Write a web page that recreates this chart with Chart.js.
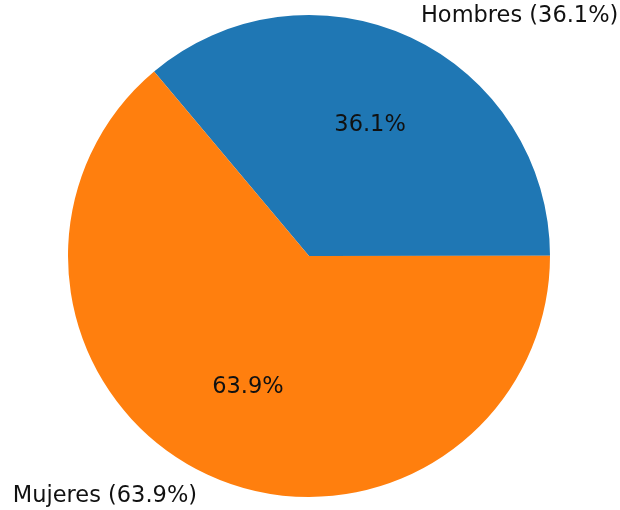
<!DOCTYPE html>
<html>
<head>
<meta charset="utf-8">
<script src="https://cdn.jsdelivr.net/npm/chart.js@4"></script>
<style>
  html, body { margin: 0; padding: 0; background: #fff; }
  #wrap { width: 620px; height: 510px; }
</style>
</head>
<body>
<div id="wrap"><canvas id="pieChart" width="620" height="510"></canvas></div>
<script>
const categories = ['Hombres', 'Mujeres'];
const values = [36.1, 63.9];
const colors = ['#1f77b4', '#ff7f0e'];

// draws the percentage inside each slice and the category label outside
const pieLabels = {
    id: 'pieLabels',
    afterDatasetsDraw(chart) {
        const ctx = chart.ctx;
        const meta = chart.getDatasetMeta(0);
        const total = values.reduce((a, b) => a + b, 0);
        ctx.save();
        ctx.font = '22.5px "DejaVu Sans"';
        ctx.fillStyle = '#111';
        ctx.textBaseline = 'middle';
        meta.data.forEach(function(arc, i) {
            const mid = (arc.startAngle + arc.endAngle) / 2;
            const r = arc.outerRadius;
            const pct = (values[i] / total * 100).toFixed(1) + '%';
            ctx.textAlign = 'center';
            ctx.fillText(pct, arc.x + Math.cos(mid) * r * 0.6, arc.y + Math.sin(mid) * r * 0.6);
            const ox = arc.x + Math.cos(mid) * r * 1.1;
            const oy = arc.y + Math.sin(mid) * r * 1.1;
            ctx.textAlign = ox >= arc.x ? 'left' : 'right';
            ctx.fillText(categories[i] + ' (' + pct + ')', ox, oy);
        });
        ctx.restore();
    }
};

new Chart(document.getElementById('pieChart').getContext('2d'), {
    type: 'pie',
    data: {
        labels: categories,
        datasets: [{
            data: values,
            backgroundColor: colors,
            borderWidth: 0,
            hoverOffset: 0
        }]
    },
    options: {
        responsive: false,
        animation: false,
        rotation: -40,
        layout: {
            padding: { left: 68, right: 70, top: 15, bottom: 13 }
        },
        plugins: {
            legend: { display: false },
            tooltip: { enabled: false }
        }
    },
    plugins: [pieLabels]
});
</script>
</body>
</html>
